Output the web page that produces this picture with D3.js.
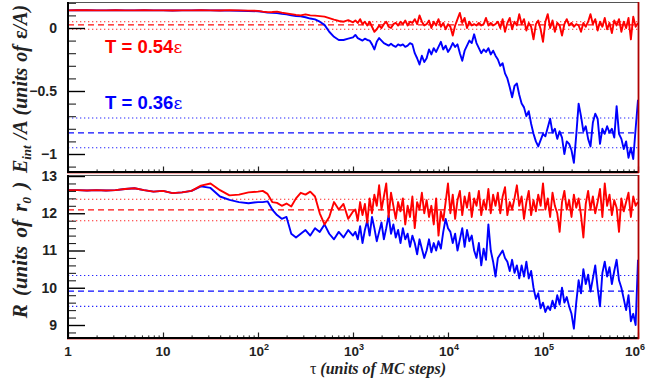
<!DOCTYPE html>
<html>
<head>
<meta charset="utf-8">
<script src="https://cdn.jsdelivr.net/npm/d3@7/dist/d3.min.js"></script>
<style>
  body { margin: 0; background: #fff; }
  svg { display: block; }
</style>
</head>
<body>
<svg id="chart" width="646" height="390"></svg>
<script>
// Sampling times, as log10 of tau (MC steps)
const logTau = [
  0,0.1,0.2,0.3,0.4,0.5,0.6,0.7,0.8,0.9,1.0,1.1,1.2,1.3,1.4,1.5,1.6,1.7,1.8,1.9,2.0,
  2.05,2.1,2.15,2.2,2.25,2.3,2.35,2.4,2.45,2.5,2.55,2.6,2.65,2.7,2.75,2.8,2.85,2.9,2.95,3.0,
  3.025,3.05,3.075,3.1,3.125,3.15,3.175,3.2,3.225,3.25,
  3.275,3.3,3.325,3.35,3.375,3.4,3.425,3.45,3.475,3.5,
  3.525,3.55,3.575,3.6,3.625,3.65,3.675,3.7,3.725,3.75,
  3.775,3.8,3.825,3.85,3.875,3.9,3.925,3.95,3.975,4.0,
  4.025,4.05,4.075,4.1,4.125,4.15,4.175,4.2,4.225,4.25,
  4.275,4.3,4.325,4.35,4.375,4.4,4.425,4.45,4.475,4.5,
  4.525,4.55,4.575,4.6,4.625,4.65,4.675,4.7,4.725,4.75,
  4.775,4.8,4.825,4.85,4.875,4.9,4.925,4.95,4.975,5.0,
  5.025,5.05,5.075,5.1,5.125,5.15,5.175,5.2,5.225,5.25,
  5.275,5.3,5.325,5.35,5.375,5.4,5.425,5.45,5.475,5.5,
  5.525,5.55,5.575,5.6,5.625,5.65,5.675,5.7,5.725,5.75,
  5.775,5.8,5.825,5.85,5.875,5.9,5.925,5.95,5.975,6.0
];

// Interaction energy per particle, T = 0.54 eps
const energyT054 = [
  0.140,0.141,0.141,0.140,0.140,0.141,0.140,0.140,0.141,0.140,0.140,0.139,0.140,0.140,0.141,0.140,0.139,0.142,0.140,0.138,0.136,
  0.130,0.126,0.127,0.130,0.122,0.116,0.110,0.104,0.100,0.108,0.100,0.098,0.094,0.090,0.078,0.066,0.056,0.050,0.062,0.045,
  0.06,0.04,0.07,0.03,0.05,0.02,0.05,0.01,-0.03,-0.01,
  0.02,0.00,0.03,0.05,0.01,0.00,0.03,0.04,0.02,0.05,
  0.03,0.06,0.02,0.05,0.04,0.07,0.03,0.10,0.05,0.02,
  0.03,0.06,0.00,0.05,0.02,0.07,0.01,0.04,-0.01,0.03,
  0.01,-0.06,0.02,0.07,0.12,0.04,0.08,0.00,0.05,0.02,
  0.03,0.02,0.04,0.02,0.03,0.08,0.02,0.04,0.02,0.03,
  0.05,0.00,0.07,-0.03,0.04,0.08,-0.01,0.05,0.02,0.11,
  0.03,0.07,-0.02,0.04,0.01,-0.09,0.03,0.06,-0.01,-0.11,
  0.05,0.11,0.00,0.06,-0.03,0.04,0.02,-0.06,0.03,0.07,
  0.02,0.04,0.01,0.03,0.02,-0.03,0.04,0.01,0.05,0.11,
  0.03,0.07,-0.02,0.05,0.01,0.08,-0.01,0.04,-0.04,0.06,
  0.02,0.07,-0.03,0.05,0.00,0.08,-0.09,0.09,0.01,0.04
];

// Interaction energy per particle, T = 0.36 eps
const energyT036 = [
  0.140,0.141,0.141,0.140,0.140,0.141,0.140,0.140,0.141,0.140,0.140,0.139,0.140,0.140,0.141,0.140,0.139,0.138,0.137,0.135,0.133,
  0.128,0.122,0.120,0.118,0.112,0.108,0.100,0.095,0.092,0.085,0.075,0.068,0.050,0.025,-0.030,-0.070,-0.095,-0.095,-0.085,-0.075,
  -0.055,-0.08,-0.09,-0.10,-0.085,-0.095,-0.10,-0.13,-0.17,-0.11,
  -0.08,-0.10,-0.12,-0.13,-0.14,-0.125,-0.14,-0.15,-0.13,-0.14,
  -0.13,-0.15,-0.14,-0.12,-0.13,-0.20,-0.24,-0.29,-0.22,-0.27,
  -0.24,-0.17,-0.21,-0.16,-0.19,-0.15,-0.11,-0.17,-0.14,-0.19,
  -0.16,-0.12,-0.15,-0.13,-0.20,-0.26,-0.18,-0.14,-0.10,-0.12,
  -0.05,-0.12,-0.16,-0.20,-0.17,-0.19,-0.16,-0.21,-0.18,-0.22,
  -0.25,-0.30,-0.28,-0.36,-0.40,-0.47,-0.55,-0.46,-0.44,-0.53,
  -0.60,-0.63,-0.70,-0.66,-0.76,-0.84,-0.90,-0.94,-0.89,-0.84,
  -0.86,-0.79,-0.72,-0.83,-0.80,-0.88,-0.82,-0.87,-1.00,-0.90,
  -0.92,-0.97,-1.07,-0.85,-0.60,-0.70,-0.82,-0.78,-0.88,-0.94,
  -0.75,-0.68,-0.72,-0.92,-0.80,-0.84,-0.78,-0.83,-0.80,-0.87,
  -0.62,-0.84,-0.88,-0.96,-0.90,-1.03,-0.95,-1.04,-0.80,-0.57
];

// Cluster radius, T = 0.54 eps
const radiusT054 = [
  12.62,12.62,12.61,12.62,12.61,12.62,12.65,12.67,12.62,12.58,12.60,12.54,12.56,12.60,12.74,12.80,12.62,12.48,12.50,12.56,12.58,
  12.60,12.52,12.30,12.28,12.20,12.26,12.18,12.40,12.55,12.50,12.58,12.45,12.00,11.70,11.90,12.30,12.10,12.25,11.85,12.05,
  12.10,11.80,12.30,11.95,12.25,11.75,12.40,12.00,12.50,12.20,
  12.75,12.10,12.45,12.80,11.90,12.55,12.20,11.85,12.30,12.05,
  12.40,11.70,12.20,11.90,12.45,11.60,12.30,12.10,12.55,12.00,
  12.35,11.90,12.20,11.70,12.40,11.40,12.05,11.80,12.30,12.80,
  12.00,12.50,11.85,12.35,12.60,11.95,12.45,12.15,12.55,11.90,
  12.40,12.20,12.60,11.95,12.35,12.10,12.65,12.00,12.50,12.20,
  12.55,12.00,12.45,12.70,11.95,12.30,12.10,12.40,12.75,12.20,
  12.45,11.85,12.30,12.60,11.95,12.35,12.05,12.50,12.20,12.80,
  12.10,12.40,11.90,12.55,12.20,12.00,11.50,12.30,12.60,12.10,
  12.35,11.90,12.50,12.15,12.40,11.95,11.35,12.25,12.60,12.10,
  12.45,12.00,12.30,12.65,11.90,12.80,12.20,12.50,11.95,12.35,
  12.15,11.50,12.40,12.05,12.30,12.55,11.90,12.45,12.20,12.30
];

// Cluster radius, T = 0.36 eps
const radiusT036 = [
  12.62,12.62,12.61,12.62,12.61,12.62,12.65,12.67,12.62,12.58,12.60,12.54,12.56,12.60,12.72,12.68,12.45,12.36,12.30,12.27,12.30,
  12.30,12.32,12.10,11.95,11.85,11.90,11.45,11.35,11.45,11.55,11.40,11.60,11.50,11.70,11.45,11.30,11.50,11.35,11.55,11.40,
  11.50,11.30,11.65,11.20,11.55,11.80,11.40,11.90,11.60,11.25,
  11.50,11.75,11.30,11.60,11.95,11.45,11.70,11.35,11.55,11.20,
  11.60,11.30,11.45,11.10,11.40,11.20,10.90,11.30,11.05,10.80,
  11.00,11.30,10.95,11.20,11.00,11.25,11.05,11.50,11.85,11.60,
  11.50,11.20,11.45,11.00,11.30,11.60,11.10,11.55,11.25,11.40,
  11.00,10.80,11.20,10.60,11.05,10.75,11.70,11.00,10.70,10.30,
  10.80,10.90,11.00,10.80,10.70,10.45,10.75,10.40,10.60,10.25,
  10.60,10.30,10.70,10.25,10.45,10.00,9.70,9.85,9.45,9.60,
  9.35,9.50,9.40,9.65,9.45,9.80,9.55,10.00,9.60,9.75,
  9.50,9.30,8.90,9.60,10.20,9.85,10.50,10.10,10.35,9.90,
  10.25,10.60,10.00,9.50,10.40,10.70,10.30,10.55,10.10,10.45,
  10.75,10.20,10.00,9.70,9.40,9.80,9.10,9.30,9.00,10.75
];

// Equilibrium references: [upper bound, mean, lower bound]
const energyRefT054 = [0.050, 0.024, -0.010];
const energyRefT036 = [-0.714, -0.833, -0.950];
const radiusRefT054 = [12.375, 12.09, 11.80];
const radiusRefT036 = [10.33, 9.91, 9.50];

// Axis ticks and labels
const xTickExponents = [0, 1, 2, 3, 4, 5, 6];
const energyTicks = [0, -0.5, -1];
const energyTickLabels = ["0", "\u22120.5", "\u22121"];
const radiusTicks = [9, 10, 11, 12, 13];
const radiusTickLabels = ["9", "10", "11", "12", "13"];
const tempLabels = ["T = 0.54", "T = 0.36"];

const RED = "#ff0000", BLUE = "#0000ff";
const svg = d3.select("#chart");

const x = d3.scaleLog().domain([1, 1e6]).range([68, 638]);

const panels = [
  { id: "energy", top: 2, bottom: 172,
    y: d3.scaleLinear().domain([-1.1429, 0.2063]).range([172, 2]),
    majors: energyTicks, labels: energyTickLabels, minorStep: 0.1,
    series: [[energyT036, BLUE], [energyT054, RED]],
    refs: [[energyRefT054, RED], [energyRefT036, BLUE]] },
  { id: "radius", top: 175, bottom: 338,
    y: d3.scaleLinear().domain([8.651, 13.027]).range([338, 175]),
    majors: radiusTicks, labels: radiusTickLabels, minorStep: 0.2,
    series: [[radiusT036, BLUE], [radiusT054, RED]],
    refs: [[radiusRefT054, RED], [radiusRefT036, BLUE]] }
];

const xMinor = [];
for (let e = 0; e < 6; e++) for (let m = 2; m <= 9; m++) xMinor.push(m * Math.pow(10, e));
const xMajor = xTickExponents.map(e => Math.pow(10, e));

const defs = svg.append("defs");

panels.forEach(p => {
  const [y0, y1] = p.y.domain();
  defs.append("clipPath").attr("id", "clip-" + p.id)
    .append("rect").attr("x", 68).attr("y", p.top)
    .attr("width", 570).attr("height", p.bottom - p.top);

  const g = svg.append("g").attr("clip-path", `url(#clip-${p.id})`);

  // reference bands: dotted bounds, dashed mean
  p.refs.forEach(([vals, col]) => {
    vals.forEach((v, i) => {
      g.append("line")
        .attr("x1", 68).attr("x2", 638)
        .attr("y1", p.y(v)).attr("y2", p.y(v))
        .attr("stroke", col)
        .attr("stroke-width", i === 1 ? 1.2 : 1.1)
        .attr("stroke-dasharray", i === 1 ? "6,4" : "1.3,2.7")
        .attr("opacity", i === 1 ? 0.95 : 0.85);
    });
  });

  // time series
  p.series.forEach(([vals, col]) => {
    const line = d3.line()
      .x((d, i) => x(Math.pow(10, logTau[i])))
      .y(d => p.y(d));
    g.append("path").datum(vals)
      .attr("fill", "none").attr("stroke", col)
      .attr("stroke-width", 1.9)
      .attr("stroke-linejoin", "round")
      .attr("d", line);
  });

  // y axis: major and minor ticks pointing into the frame
  const minors = [];
  for (let v = Math.ceil(y0 / p.minorStep) * p.minorStep; v <= y1 + 1e-9; v += p.minorStep) {
    const r = Math.round(v * 100) / 100;
    if (!p.majors.some(m => Math.abs(m - r) < 1e-6)) minors.push(r);
  }
  const yMinorAxis = d3.axisLeft(p.y).tickValues(minors).tickSizeInner(-8).tickSizeOuter(0).tickFormat("");
  svg.append("g").attr("transform", "translate(68,0)").call(yMinorAxis)
    .call(s => s.select(".domain").remove())
    .selectAll("line").attr("stroke", "#222").attr("stroke-width", 1.1);

  const yMajorAxis = d3.axisLeft(p.y).tickValues(p.majors).tickSizeInner(-17).tickSizeOuter(0)
    .tickPadding(11).tickFormat((d, i) => p.labels[i]);
  svg.append("g").attr("transform", "translate(68,0)").call(yMajorAxis)
    .call(s => s.select(".domain").remove())
    .call(s => s.selectAll("line").attr("stroke", "#000").attr("stroke-width", 1.4))
    .call(s => s.selectAll("text")
      .attr("font-family", "Liberation Sans, Arial, sans-serif")
      .attr("font-weight", "bold").attr("font-size", 14).attr("fill", "#222"));

  // x axis ticks along the bottom of each frame
  const xMinorAxis = d3.axisBottom(x).tickValues(xMinor).tickSizeInner(-2.6).tickSizeOuter(0).tickFormat("");
  svg.append("g").attr("transform", `translate(0,${p.bottom})`).call(xMinorAxis)
    .call(s => s.select(".domain").remove())
    .selectAll("line").attr("stroke", "#222").attr("stroke-width", 1);
  const xMajorAxis = d3.axisBottom(x).tickValues(xMajor).tickSizeInner(-5.5).tickSizeOuter(0).tickFormat("");
  svg.append("g").attr("transform", `translate(0,${p.bottom})`).call(xMajorAxis)
    .call(s => s.select(".domain").remove())
    .selectAll("line").attr("stroke", "#222").attr("stroke-width", 1.2);

  // frame
  svg.append("line").attr("x1", 68).attr("x2", 639).attr("y1", p.top + 0.5).attr("y2", p.top + 0.5)
    .attr("stroke", "#555").attr("stroke-width", 1);
  svg.append("line").attr("x1", 68).attr("x2", 68).attr("y1", p.top).attr("y2", p.bottom + 1)
    .attr("stroke", "#000").attr("stroke-width", 2);
  svg.append("line").attr("x1", 67).attr("x2", 639).attr("y1", p.bottom).attr("y2", p.bottom)
    .attr("stroke", "#000").attr("stroke-width", 2);
  svg.append("line").attr("x1", 67).attr("x2", 639).attr("y1", p.bottom + 1.6).attr("y2", p.bottom + 1.6)
    .attr("stroke", "#e03030").attr("stroke-width", 0.8).attr("opacity", 0.6);
  svg.append("line").attr("x1", 638.5).attr("x2", 638.5).attr("y1", p.top).attr("y2", p.bottom + 1)
    .attr("stroke", "#b00000").attr("stroke-width", 1.8);
});

// x tick labels: 1, 10, 10^2 ... 10^6
const xLabels = svg.append("g")
  .attr("font-family", "Liberation Sans, Arial, sans-serif")
  .attr("font-weight", "bold").attr("font-size", 13.5).attr("fill", "#222");
xTickExponents.forEach(e => {
  const last = e === xTickExponents[xTickExponents.length - 1];
  const t = xLabels.append("text")
    .attr("x", last ? 645 : x(Math.pow(10, e)) + (e > 1 ? 1 : 0))
    .attr("y", 356)
    .attr("text-anchor", last ? "end" : "middle");
  if (e === 0) t.text("1");
  else if (e === 1) t.text("10");
  else {
    t.append("tspan").text("10");
    t.append("tspan").attr("dy", -6).attr("font-size", 9).text(e);
  }
});

// axis titles
svg.append("text")
  .attr("x", 378).attr("y", 374).attr("text-anchor", "middle")
  .attr("font-family", "Liberation Serif, Times New Roman, serif")
  .attr("font-weight", "bold").attr("font-style", "italic").attr("font-size", 16).attr("fill", "#222")
  .call(t => {
    t.append("tspan").attr("font-style", "normal").attr("font-weight", "normal").text("\u03c4 ");
    t.append("tspan").text("(units of MC steps)");
  });

const yTitle = (cx, cy, size, wordSpacing, build) => svg.append("text")
  .attr("transform", `translate(${cx},${cy}) rotate(-90)`)
  .attr("text-anchor", "middle")
  .attr("font-family", "Liberation Serif, Times New Roman, serif")
  .attr("font-weight", "bold").attr("font-style", "italic").attr("font-size", size).attr("fill", "#222")
  .attr("word-spacing", wordSpacing)
  .call(build);

yTitle(27, 89, 20, 1, t => {
  t.append("tspan").text("E");
  t.append("tspan").attr("font-size", 13).attr("dy", 4).text("int");
  t.append("tspan").attr("dy", -4).text(" /A (units of ");
  t.append("tspan").attr("font-style", "normal").text("\u03b5");
  t.append("tspan").text("/A)");
});
yTitle(27, 250, 21, 3, t => {
  t.append("tspan").text("R (units of r");
  t.append("tspan").attr("font-size", 13.5).attr("dy", 4).text("0");
  t.append("tspan").attr("dy", -4).text(" )");
});

// temperature labels
[[tempLabels[0], RED, 53], [tempLabels[1], BLUE, 108.5]].forEach(([txt, col, yy]) => {
  const t = svg.append("text").attr("x", 105).attr("y", yy).attr("fill", col)
    .attr("font-family", "Liberation Sans, Arial, sans-serif")
    .attr("font-weight", "bold").attr("font-size", 18.5);
  t.append("tspan").text(txt);
  t.append("tspan").attr("font-family", "DejaVu Serif, serif").attr("font-weight", "normal")
    .attr("font-size", 17).text("\u03b5");
});
</script>
</body>
</html>
